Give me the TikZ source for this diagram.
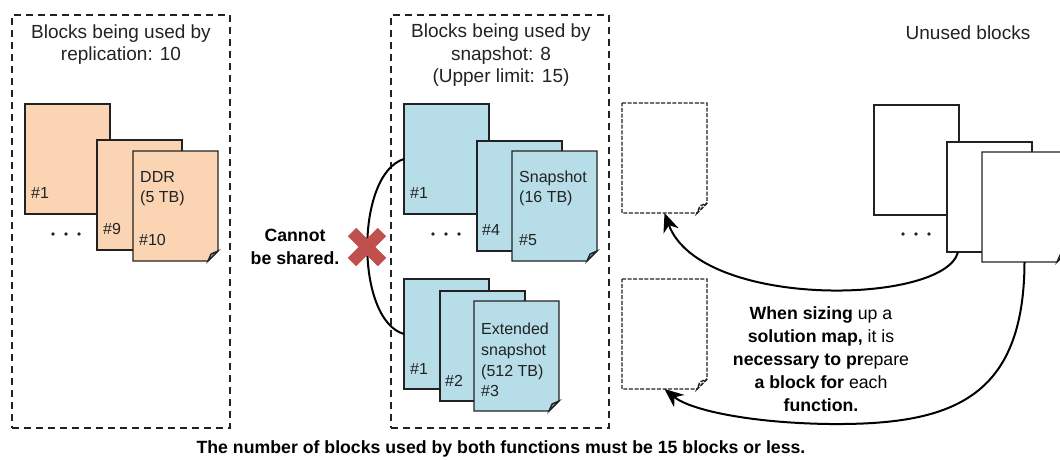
\documentclass[tikz,border=0pt]{standalone}
\usepackage{fontspec}
\setmainfont{Liberation Sans}
\usetikzlibrary{arrows.meta}
\definecolor{peach}{HTML}{FBD4B4}
\definecolor{aqua}{HTML}{B7DDE8}
\definecolor{xred}{HTML}{C0504D}
\definecolor{ink}{HTML}{222222}
\newcommand{\frontpage}[4]{%
  \node[pagebox] (#1) at (#2) {};
  \path[#3] (#1.north west) -- (#1.north east) -- ([yshift=10pt]#1.south east) -- ([xshift=-10pt]#1.south east) -- (#1.south west) -- cycle;
  \path[#3, fill=#4] ([yshift=10pt]#1.south east) -- ([xshift=-10pt]#1.south east) -- ([xshift=-7pt,yshift=7pt]#1.south east) -- cycle;
}
\tikzset{
  pagebox/.style={rectangle, minimum width=85pt, minimum height=110pt, inner sep=0pt, outer sep=0pt},
  backpage/.style={pagebox, draw=ink, line width=1.3pt},
  solidpg/.style={draw=ink, line width=1.3pt, line join=miter},
  dashpg/.style={draw=ink, line width=1.4pt, dash pattern=on 4pt off 1.6pt, fill=white},
  groupbox/.style={rectangle, draw=ink, line width=1.4pt, dash pattern=on 7pt off 5pt, minimum width=218pt, minimum height=413pt, inner sep=0pt},
  title/.style={font=\fontsize{19}{22.5}\selectfont, align=center, text=ink, inner sep=0pt},
  lbl/.style={font=\fontsize{16}{20.7}\selectfont, align=left, anchor=west, text=ink, inner sep=0pt},
  boldlbl/.style={font=\fontsize{17.7}{23}\selectfont, align=center, text=black, inner sep=0pt},
  dotmark/.style={circle, fill=ink, inner sep=0pt, minimum size=3.6pt},
  conn/.style={line width=2pt, draw=black},
  arr/.style={conn, -{Stealth[length=19pt,width=16pt,inset=6pt]}}
}
\begin{document}
\begin{tikzpicture}[x=1pt, y=-1pt]
\useasboundingbox (0,0) rectangle (1060,459);

% group boxes
\node[groupbox] (gleft) at (121,221.5) {};
\node[groupbox] (gmid) at (500,221.5) {};
\node[title] (tleft) at (121,44.5) {Blocks being used by\\replication: 10};
\node[title] (tmid) at (501,55.5) {Blocks being used by\\snapshot: 8\\(Upper limit: 15)};
\node[title] (tright) at (968,33) {Unused blocks};

% replication blocks
\node[backpage, fill=peach] (o1) at (67.5,159) {};
\node[backpage, fill=peach] (o9) at (139.5,195) {};
\frontpage{o10}{175.5,206}{solidpg, fill=peach}{peach!70!black}
\node[lbl] (o1n) at (31,193) {\#1};
\node[lbl] (o9n) at (103,229) {\#9};
\node[lbl] (o10t) at (140,188.5) {DDR\\(5 TB)};
\node[lbl] (o10n) at (139,240) {\#10};
\node[dotmark] (od1) at (53,234) {};
\node[dotmark] (od2) at (66,234) {};
\node[dotmark] (od3) at (79,234) {};

% snapshot blocks
\node[backpage, fill=aqua] (b1) at (446.5,159) {};
\node[backpage, fill=aqua] (b4) at (519.5,196) {};
\frontpage{b5}{554.5,206}{solidpg, fill=aqua}{aqua!65!black}
\node[lbl] (b1n) at (410,193) {\#1};
\node[lbl] (b4n) at (482,230) {\#4};
\node[lbl] (b5t) at (519,188.5) {Snapshot\\(16 TB)};
\node[lbl] (b5n) at (519,240) {\#5};
\node[dotmark] (bd1) at (433,234) {};
\node[dotmark] (bd2) at (446,234) {};
\node[dotmark] (bd3) at (459,234) {};

% extended snapshot blocks
\node[backpage, fill=aqua] (c1) at (446.5,334) {};
\node[backpage, fill=aqua] (c2) at (482.5,346) {};
\frontpage{c3}{516.5,356}{solidpg, fill=aqua}{aqua!65!black}
\node[lbl] (c1n) at (410,369) {\#1};
\node[lbl] (c2n) at (445,381) {\#2};
\node[lbl] (c3t) at (481,360) {Extended\\snapshot\\(512 TB)\\\#3};

% cannot be shared
\draw[conn] (b1.west) .. controls +(-49,15) and +(-49,-14) .. (c1.west);
\coordinate (xc) at (367,247);
\draw[xred, line width=12pt] ([xshift=-15pt,yshift=15pt]xc) -- ([xshift=15pt,yshift=-15pt]xc);
\draw[xred, line width=12pt] ([xshift=-15pt,yshift=-15pt]xc) -- ([xshift=15pt,yshift=15pt]xc);
\node[boldlbl, font=\fontsize{17.7}{23}\selectfont\bfseries] (share) at (295,246.5) {Cannot\\be shared.};

% prepared (dashed) blocks
\frontpage{d1}{664.5,158}{dashpg}{white}
\frontpage{d2}{664.5,334}{dashpg}{white}

% unused blocks
\node[backpage, fill=white] (w1) at (916.5,160) {};
\node[backpage, fill=white] (w2) at (989.5,197) {};
\frontpage{w3}{1024.5,207}{solidpg, fill=white}{white!75!black}
\node[dotmark] (wd1) at (903,234) {};
\node[dotmark] (wd2) at (916,234) {};
\node[dotmark] (wd3) at (929,234) {};

% arrows
\draw[arr] ([xshift=11pt]w2.south west) .. controls (945,305) and (700,310) .. (d1.south);
\coordinate (lowmid) at (830,424);
\draw[arr] (w3.south) .. controls (1024,400) and (950,425) .. (lowmid) .. controls (750,423) and (690,410) .. (d2.south);

\node[boldlbl] (note) at (821,359) {\textbf{When sizing} up a\\\textbf{solution map,} it is\\\textbf{necessary to pr}epare\\\textbf{a block for} each\\\textbf{function.}};

\node[boldlbl, font=\fontsize{17.7}{23}\selectfont\bfseries] (bottom) at (501,449) {The number of blocks used by both functions must be 15 blocks or less.};
\end{tikzpicture}
\end{document}
